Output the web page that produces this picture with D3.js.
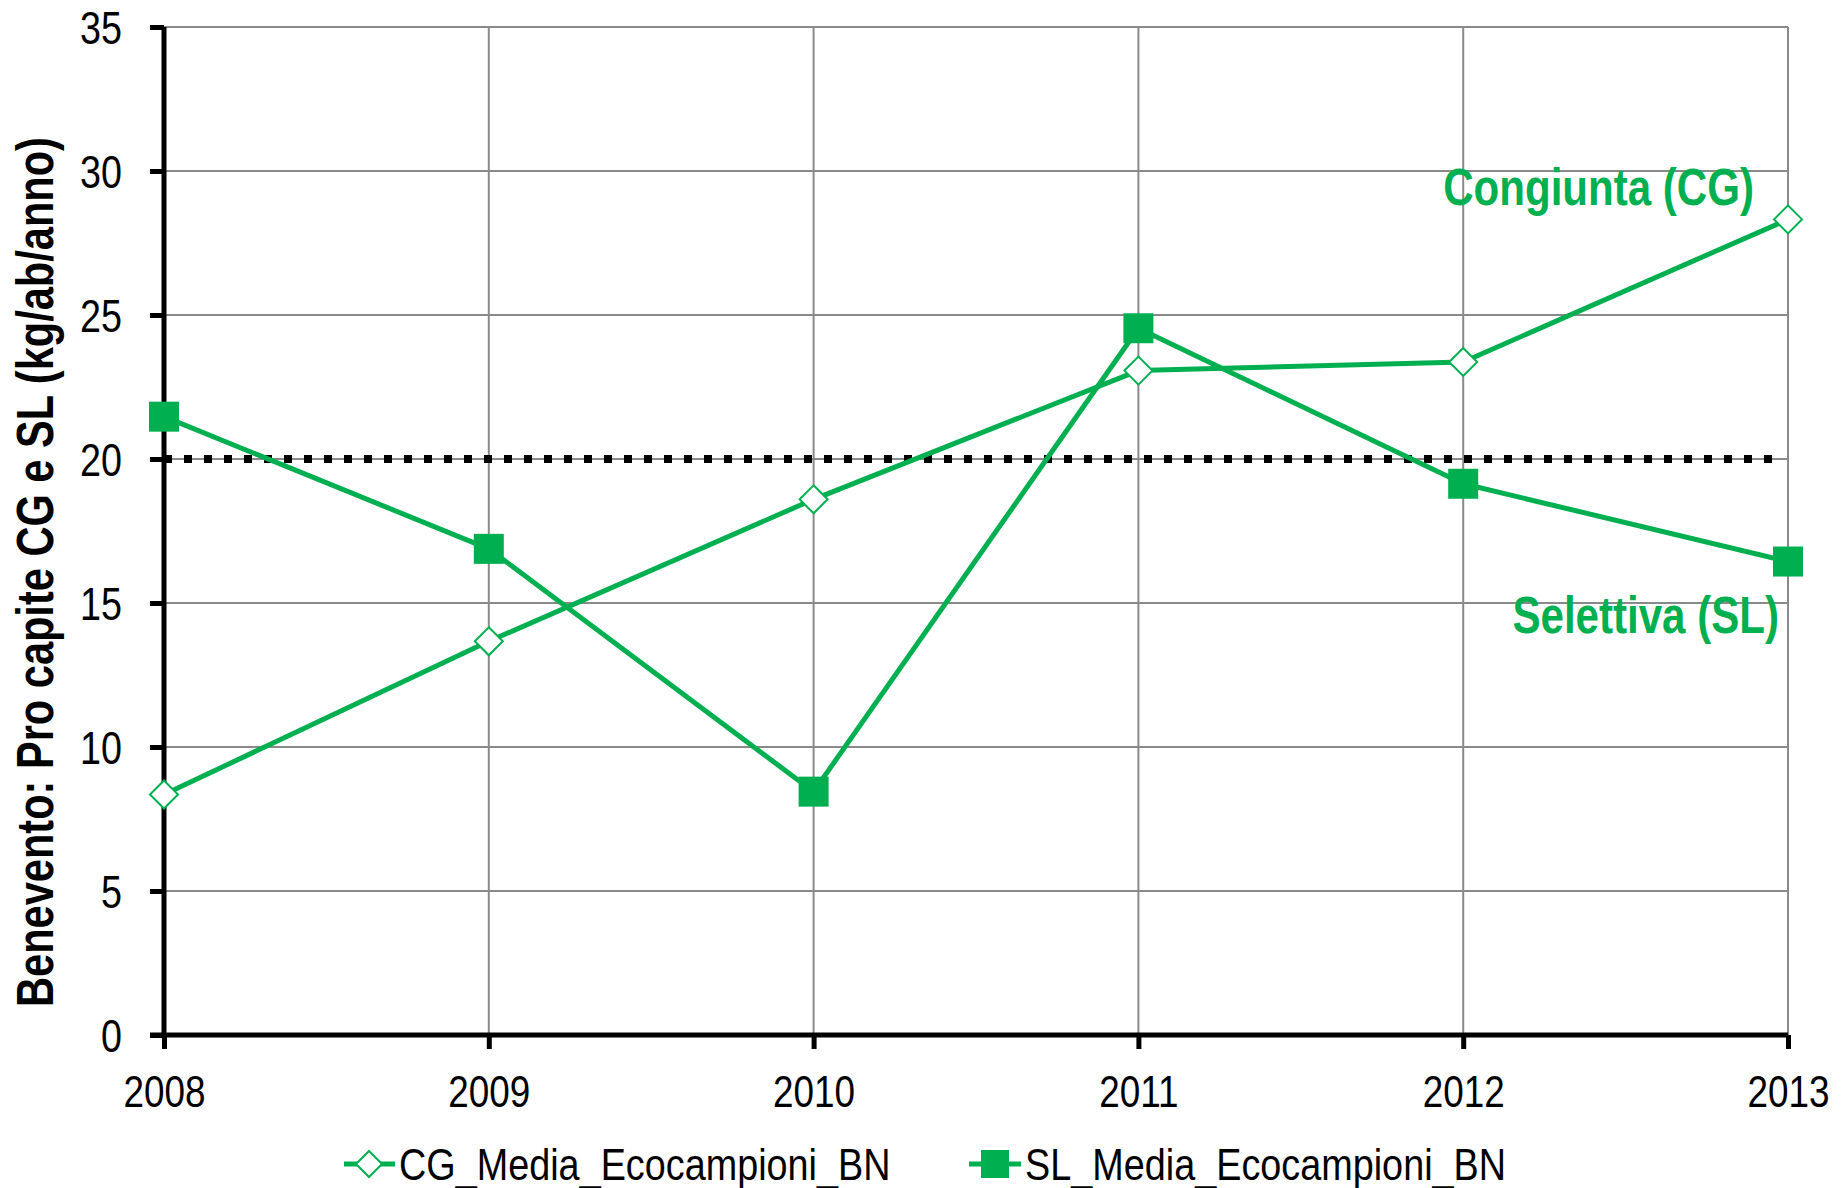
<!DOCTYPE html>
<html><head><meta charset="utf-8">
<script src="https://cdn.jsdelivr.net/npm/d3@7"></script>
<style>
html,body{margin:0;padding:0;background:#fff;}
svg text{font-family:"Liberation Sans Narrow","Arial Narrow","Liberation Sans",Arial,sans-serif;}
</style></head><body>
<svg id="chart" width="1847" height="1188"></svg>
<script>
const years = [2008, 2009, 2010, 2011, 2012, 2013];
const cgValues = [8.35, 13.67, 18.6, 23.07, 23.37, 28.32];
const slValues = [21.47, 16.88, 8.45, 24.54, 19.14, 16.44];
const targetValue = 20;
const yTicks = [0, 5, 10, 15, 20, 25, 30, 35];
const seriesNames = ["CG_Media_Ecocampioni_BN", "SL_Media_Ecocampioni_BN"];
const annotations = ["Congiunta (CG)", "Selettiva (SL)"];
const yTitle = "Benevento: Pro capite CG e SL (kg/ab/anno)";

const green = "#00B050";
const NARROW = 0.82;
const svg = d3.select("#chart");
const x = d3.scaleLinear().domain([2008, 2013]).range([164, 1788]);
const y = d3.scaleLinear().domain([0, 35]).range([1035, 27]);

// place a text at (px,py) horizontally condensed
function narrowText(sel, px, py, s) {
  sel.attr("x", null).attr("y", null)
     .attr("transform", `translate(${px},${py}) scale(${s},1)`);
}

// grid
const grid = svg.append("g");
grid.selectAll("line.h").data(yTicks).join("line")
  .attr("x1", x(2008)).attr("x2", x(2013))
  .attr("y1", d => y(d)).attr("y2", d => y(d))
  .attr("stroke", "#8a8a8a").attr("stroke-width", 2);
grid.selectAll("line.v").data(years).join("line")
  .attr("x1", d => x(d)).attr("x2", d => x(d))
  .attr("y1", y(35)).attr("y2", y(0))
  .attr("stroke", "#8a8a8a").attr("stroke-width", 2);

// axes
const yAxis = d3.axisLeft(y).tickValues(yTicks).tickSize(14).tickFormat(d3.format("d"));
const gy = svg.append("g").attr("transform", `translate(${x(2008)},0)`).call(yAxis);
gy.select(".domain").attr("stroke", "#000").attr("stroke-width", 5).attr("d", `M0,${y(35)}V${y(0)+2}`);
gy.selectAll(".tick line").attr("stroke", "#000").attr("stroke-width", 5);
gy.selectAll(".tick text").attr("font-size", 46).attr("fill", "#000")
  .attr("dy", "0.35em")
  .each(function() { narrowText(d3.select(this), -42, 0, NARROW); });

const xAxis = d3.axisBottom(x).tickValues(years).tickSize(14).tickFormat(d3.format("d"));
const gx = svg.append("g").attr("transform", `translate(0,${y(0)})`).call(xAxis);
gx.select(".domain").attr("stroke", "#000").attr("stroke-width", 5).attr("d", `M${x(2008)-14},0H${x(2013)}`);
gx.selectAll(".tick line").attr("stroke", "#000").attr("stroke-width", 5);
gx.selectAll(".tick text").attr("font-size", 45).attr("fill", "#000")
  .attr("dy", null)
  .each(function() { narrowText(d3.select(this), 0, 72, NARROW); });

// target dotted line
svg.append("line")
  .attr("x1", x(2008)).attr("x2", x(2013) - 16)
  .attr("y1", y(targetValue)).attr("y2", y(targetValue))
  .attr("stroke", "#000").attr("stroke-width", 8).attr("stroke-dasharray", "8,12");

const line = d3.line().x((d, i) => x(years[i])).y(d => y(d));

svg.append("path").datum(cgValues).attr("d", line)
  .attr("fill", "none").attr("stroke", green).attr("stroke-width", 5).attr("stroke-linejoin", "round");
svg.append("path").datum(slValues).attr("d", line)
  .attr("fill", "none").attr("stroke", green).attr("stroke-width", 5).attr("stroke-linejoin", "round");

const diamond = s => `M0,${-s}L${s},0L0,${s}L${-s},0Z`;
svg.selectAll("path.cgm").data(cgValues).join("path")
  .attr("transform", (d, i) => `translate(${x(years[i])},${y(d)})`)
  .attr("d", diamond(14)).attr("fill", "#fff").attr("stroke", green).attr("stroke-width", 2);
svg.selectAll("rect.slm").data(slValues).join("rect")
  .attr("x", (d, i) => x(years[i]) - 15).attr("y", d => y(d) - 15)
  .attr("width", 30).attr("height", 30).attr("fill", green);

// annotations
svg.append("text").text(annotations[0]).attr("text-anchor", "end")
  .attr("font-size", 51).attr("font-weight", "bold").attr("fill", green)
  .call(s => narrowText(s, 1754, 205, 0.825));
svg.append("text").text(annotations[1]).attr("text-anchor", "end")
  .attr("font-size", 51).attr("font-weight", "bold").attr("fill", green)
  .call(s => narrowText(s, 1779, 633, 0.825));

// y title
svg.append("text").text(yTitle)
  .attr("transform", `translate(53,572) rotate(-90) scale(0.815,1)`)
  .attr("text-anchor", "middle")
  .attr("font-size", 51).attr("font-weight", "bold").attr("fill", "#000");

// legend
const lg = svg.append("g");
const lgY = 1164;
lg.append("line").attr("x1", 344).attr("x2", 395).attr("y1", lgY).attr("y2", lgY)
  .attr("stroke", green).attr("stroke-width", 5);
lg.append("path").attr("transform", `translate(369,${lgY})`).attr("d", diamond(13))
  .attr("fill", "#fff").attr("stroke", green).attr("stroke-width", 2);
lg.append("text").text(seriesNames[0])
  .attr("font-size", 45).attr("fill", "#000")
  .call(s => narrowText(s, 399, lgY + 16, 0.84));
lg.append("line").attr("x1", 969).attr("x2", 1021).attr("y1", lgY).attr("y2", lgY)
  .attr("stroke", green).attr("stroke-width", 5);
lg.append("rect").attr("x", 981).attr("y", lgY - 14).attr("width", 28).attr("height", 28).attr("fill", green);
lg.append("text").text(seriesNames[1])
  .attr("font-size", 45).attr("fill", "#000")
  .call(s => narrowText(s, 1025, lgY + 16, 0.84));
</script>
</body></html>
